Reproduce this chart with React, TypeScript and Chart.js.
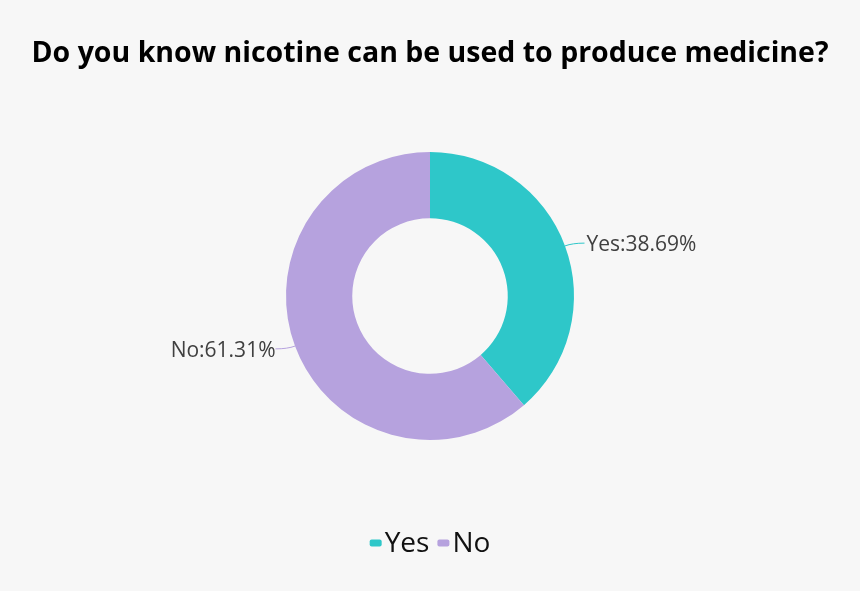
import React, { useEffect, useRef } from "react";
import { Chart, registerables } from "chart.js";

Chart.register(...registerables);

const TITLE = "Do you know nicotine can be used to produce medicine?";
const CATEGORIES = ["Yes", "No"];
const VALUES = [38.69, 61.31];
const COLORS = ["#2ec7c9", "#b6a2de"];
const BG = "#f7f7f7";
const FONT = "'Open Sans', 'Noto Sans', sans-serif";

const labelPlugin = {
  id: "sliceLabels",
  afterDatasetsDraw(chart: any) {
    const ctx = chart.ctx;
    const meta = chart.getDatasetMeta(0);
    ctx.save();
    ctx.font = `21px ${FONT}`;
    ctx.textBaseline = "middle";
    meta.data.forEach((arc: any, i: number) => {
      const { x, y, startAngle, endAngle, outerRadius } = arc.getProps(
        ["x", "y", "startAngle", "endAngle", "outerRadius"],
        true
      );
      const mid = (startAngle + endAngle) / 2;
      const cos = Math.cos(mid);
      const sin = Math.sin(mid);
      const px = x + cos * outerRadius;
      const py = y + sin * outerRadius;
      const ex = x + cos * (outerRadius + 8);
      const ey = y + sin * (outerRadius + 8);
      const right = cos >= 0;
      const hx = ex + (right ? 12 : -12);
      ctx.strokeStyle = COLORS[i];
      ctx.lineWidth = 1;
      ctx.beginPath();
      ctx.moveTo(px, py);
      ctx.quadraticCurveTo(ex, ey, hx, ey);
      ctx.stroke();
      ctx.fillStyle = "#404040";
      ctx.textAlign = right ? "left" : "right";
      const text = `${CATEGORIES[i]}:${VALUES[i].toFixed(2)}%`;
      ctx.fillText(text, hx + (right ? 2 : 0), ey + 2);
    });
    ctx.restore();
  },
};

const legendPlugin = {
  id: "customLegend",
  afterDraw(chart: any) {
    const ctx = chart.ctx;
    ctx.save();
    ctx.font = `28px ${FONT}`;
    ctx.textBaseline = "middle";
    const boxW = 12;
    const boxH = 7;
    const gap = 3;
    const itemGap = 8;
    const widths = CATEGORIES.map((c) => boxW + gap + ctx.measureText(c).width);
    const total = widths.reduce((a, b) => a + b, 0) + itemGap * (CATEGORIES.length - 1);
    let x = chart.width / 2 - total / 2;
    const y = 543;
    CATEGORIES.forEach((c, i) => {
      ctx.fillStyle = COLORS[i];
      ctx.beginPath();
      (ctx as any).roundRect(x, y - boxH / 2, boxW, boxH, 2);
      ctx.fill();
      ctx.fillStyle = "#111";
      ctx.textAlign = "left";
      ctx.fillText(c, x + boxW + gap, y + 1);
      x += widths[i] + itemGap;
    });
    ctx.restore();
  },
};

export default function App() {
  const ref = useRef<HTMLCanvasElement>(null);
  useEffect(() => {
    if (!ref.current) return;
    const chart = new Chart(ref.current, {
      type: "doughnut",
      data: {
        labels: CATEGORIES,
        datasets: [
          {
            data: VALUES,
            backgroundColor: COLORS,
            borderWidth: 0,
            radius: 144,
            cutout: "54%",
          },
        ],
      },
      options: {
        animation: false,
        responsive: false,
        maintainAspectRatio: false,
        layout: { padding: { top: 20, bottom: 71, left: 0, right: 0 } },
        plugins: {
          legend: { display: false },
          tooltip: { enabled: false },
          title: {
            display: true,
            text: TITLE,
            color: "#000",
            font: { family: FONT, size: 28.5, weight: "bold" },
            padding: { top: 17, bottom: 0.8 },
          },
        },
      },
      plugins: [labelPlugin, legendPlugin],
    });
    return () => chart.destroy();
  }, []);
  return (
    <div
      style={{
        position: "fixed",
        left: 0,
        top: 0,
        width: 860,
        height: 591,
        background: BG,
      }}
    >
      <canvas ref={ref} width={860} height={591} style={{ width: 860, height: 591 }} />
    </div>
  );
}
